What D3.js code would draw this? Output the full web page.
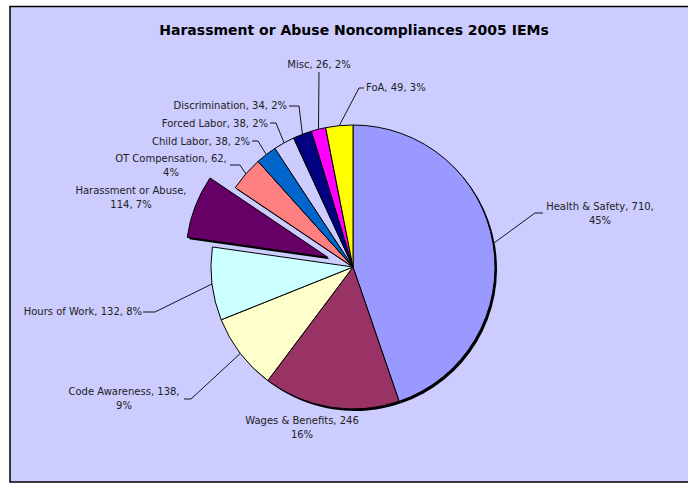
<!DOCTYPE html>
<html>
<head>
<meta http-equiv="Content-Type" content="text/html; charset=UTF-8">
<script src="https://d3js.org/d3.v7.min.js"></script>
<style>
  body { margin: 0; background: #fff; }
  text { font-family: "DejaVu Sans", Verdana, sans-serif; }
</style>
</head>
<body>
<div id="my_dataviz"></div>
<script>
// data (clockwise from 12 o'clock)
var categories = ["Health & Safety", "Wages & Benefits", "Code Awareness", "Hours of Work",
  "Harassment or Abuse", "OT Compensation", "Child Labor", "Forced Labor",
  "Discrimination", "Misc", "FoA"];
var values = [710, 246, 138, 132, 114, 62, 38, 38, 34, 26, 49];
var colors = ["#9999FF", "#993366", "#FFFFCC", "#CCFFFF", "#660066", "#FF8080",
  "#0066CC", "#CCCCFF", "#000080", "#FF00FF", "#FFFF00"];
var title = "Harassment or Abuse Noncompliances 2005 IEMs";

// label placement (the labels were dragged by hand in the original)
// x = anchor x, y = first baseline, br = where the line breaks, lead = leader points from label side
var labelLayout = [
  {x: 600, y: 210, anchor: "middle", br: "comma", lead: [[543, 213], [535, 213]]},
  {x: 302, y: 424, anchor: "middle", br: "plain", lead: null},
  {x: 124, y: 395, anchor: "middle", br: "comma", lead: [[184, 399], [191, 399]]},
  {x: 142, y: 315, anchor: "end", br: null, lead: [[143, 312], [155, 312]]},
  {x: 131, y: 194, anchor: "middle", br: "name", lead: null},
  {x: 171, y: 162, anchor: "middle", br: "comma", lead: [[230, 165], [240, 165]]},
  {x: 250, y: 145, anchor: "end", br: null, lead: [[252, 141], [258, 141]]},
  {x: 268, y: 127, anchor: "end", br: null, lead: [[270, 123], [276, 123]]},
  {x: 287, y: 109, anchor: "end", br: null, lead: [[289, 106], [299, 106]]},
  {x: 319, y: 68, anchor: "middle", br: null, lead: [[319, 72]]},
  {x: 366, y: 91, anchor: "start", br: null, lead: [[364, 88], [359, 88]]}
];
var explodeIndex = 4;

var width = 688, height = 483;
var cx = 353, cy = 267, radius = 142, explodeDist = 27;

var svg = d3.select("#my_dataviz")
  .append("svg")
    .attr("width", width)
    .attr("height", height);

// chart area
svg.append("rect")
  .attr("x", 10).attr("y", 6.5)
  .attr("width", 700).attr("height", 475.5)
  .attr("fill", "#CCCCFF")
  .attr("stroke", "#000")
  .attr("stroke-width", 1.5);

svg.append("text")
  .attr("x", 354).attr("y", 35)
  .attr("text-anchor", "middle")
  .attr("font-size", "14px")
  .attr("font-weight", "bold")
  .attr("fill", "#000")
  .text(title);

var total = d3.sum(values);
var pie = d3.pie().sort(null).value(function(d) { return d; });
var arcs = pie(values);
var arc = d3.arc().innerRadius(0).outerRadius(radius);

function offset(d, i) {
  if (i != explodeIndex) return [0, 0];
  var a = (d.startAngle + d.endAngle) / 2;
  return [Math.sin(a) * explodeDist, -Math.cos(a) * explodeDist];
}

var g = svg.append("g")
  .attr("transform", "translate(" + cx + "," + cy + ")");

// shadow
g.selectAll("path.shadow")
  .data(arcs)
  .enter()
  .append("path")
    .attr("class", "shadow")
    .attr("d", arc)
    .attr("fill", "#000")
    .attr("transform", function(d, i) {
      var o = offset(d, i);
      return "translate(" + (o[0] + 2) + "," + (o[1] + 2) + ")";
    });

g.selectAll("path.slice")
  .data(arcs)
  .enter()
  .append("path")
    .attr("class", "slice")
    .attr("d", arc)
    .attr("fill", function(d, i) { return colors[i]; })
    .attr("stroke", "#000")
    .attr("stroke-width", 1)
    .attr("stroke-linejoin", "round")
    .attr("transform", function(d, i) {
      var o = offset(d, i);
      return "translate(" + o[0] + "," + o[1] + ")";
    });

// leader lines: from the arc at mid angle to the label
var line = d3.line();
arcs.forEach(function(d, i) {
  var L = labelLayout[i];
  if (!L.lead) return;
  var a = (d.startAngle + d.endAngle) / 2;
  var o = offset(d, i);
  var p0 = [cx + o[0] + Math.sin(a) * radius, cy + o[1] - Math.cos(a) * radius];
  var pts = L.lead.slice().reverse();
  pts.unshift(p0);
  svg.append("path")
    .attr("d", line(pts))
    .attr("fill", "none")
    .attr("stroke", "#000")
    .attr("stroke-width", 0.9);
});

// labels
arcs.forEach(function(d, i) {
  var L = labelLayout[i];
  var pct = Math.round(values[i] / total * 100) + "%";
  var lines;
  if (L.br == "comma") lines = [categories[i] + ", " + values[i] + ",", pct];
  else if (L.br == "plain") lines = [categories[i] + ", " + values[i], pct];
  else if (L.br == "name") lines = [categories[i] + ",", values[i] + ", " + pct];
  else lines = [categories[i] + ", " + values[i] + ", " + pct];
  var t = svg.append("text")
    .attr("text-anchor", L.anchor)
    .attr("font-size", "10px")
    .attr("fill", "#222");
  lines.forEach(function(s, k) {
    t.append("tspan")
      .attr("x", L.x)
      .attr("y", L.y + k * 13.5)
      .text(s);
  });
});
</script>
</body>
</html>
